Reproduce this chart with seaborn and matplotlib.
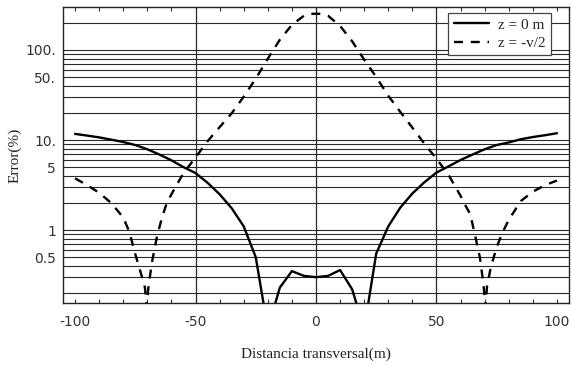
import numpy as np
import pandas as pd
import matplotlib
matplotlib.use("Agg")
import matplotlib.pyplot as plt
import matplotlib.ticker as mticker
import seaborn as sns

# ---- data ----
x_z0 = [-100, -95, -90, -85, -80, -75, -70, -65, -60, -55, -50, -45, -40, -35, -30, -25, -20, -15, -10, -5, 0,
        5, 10, 15, 20, 25, 30, 35, 40, 45, 50, 55, 60, 65, 70, 75, 80, 85, 90, 95, 100]
err_z0 = [11.7, 11.2, 10.7, 10.1, 9.5, 8.8, 7.9, 6.9, 5.95, 5.0, 4.3, 3.35, 2.5, 1.75, 1.1, 0.5, 0.08, 0.23, 0.35, 0.31, 0.30,
          0.31, 0.36, 0.22, 0.08, 0.55, 1.1, 1.78, 2.55, 3.4, 4.35, 5.1, 6.0, 6.9, 7.9, 8.8, 9.4, 10.2, 10.8, 11.3, 11.9]

x_zv2 = [-100, -95, -90, -85, -80, -77.5, -75, -72.5, -71, -70.3, -69.5, -68, -66, -64, -62, -60, -55, -50, -45, -40,
         -35, -30, -25, -20, -15, -10, -5, -2.5, 0, 2.5, 5, 10, 15, 20, 25, 30, 35, 40, 45, 50, 55, 60, 62, 64, 66,
         68, 69.5, 70.3, 71, 72.5, 75, 77.5, 80, 85, 90, 95, 100]
err_zv2 = [3.76, 3.15, 2.6, 2.0, 1.38, 0.96, 0.54, 0.32, 0.23, 0.14, 0.24, 0.45, 0.85, 1.35, 1.98, 2.5, 4.3, 6.4, 9.7, 13.9,
           19.8, 30.3, 48, 80, 130, 190, 240, 251, 253, 251, 240, 185, 125, 78, 50, 31, 20.5, 13.7, 9.1, 6.2, 4.1, 2.4, 1.88, 1.5, 0.88,
           0.5, 0.25, 0.14, 0.24, 0.38, 0.65, 0.95, 1.3, 2.1, 2.67, 3.15, 3.55]

label_z0 = "z = 0 m"
label_zv2 = "z = -v/2"
xticks = [-100, -50, 0, 50, 100]
xtick_labels = ["-100", "-50", "0", "50", "100"]
yticks = [0.5, 1, 5, 10, 50, 100]
ytick_labels = ["0.5", "1", "5", "10.", "50.", "100."]
xlabel = "Distancia transversal(m)"
ylabel = "Error(%)"

df = pd.concat([
    pd.DataFrame({"x": x_z0, "err": err_z0, "serie": label_z0}),
    pd.DataFrame({"x": x_zv2, "err": err_zv2, "serie": label_zv2}),
], ignore_index=True)

sns.set_theme(style="white")
plt.rcParams["axes.unicode_minus"] = False

fig = plt.figure(figsize=(5.71, 3.65), dpi=100)
ax = fig.add_axes([63/571, 1 - 303/365, (569-63)/571, (303-7)/365])

ax.set_yscale("log")
ax.set_xlim(-105, 105)
ax.set_ylim(0.155, 300)

# grid lines: every log minor/major in y, only -50,0,50 in x
grid_col = "#2a2a2a"
for dec in [0.1, 1, 10, 100]:
    for m in range(1, 10):
        v = dec * m
        if 0.155 < v < 300:
            ax.axhline(v, color=grid_col, lw=0.8, zorder=1)
for v in [-50, 0, 50]:
    ax.axvline(v, color=grid_col, lw=0.9, zorder=1)

sns.lineplot(data=df, x="x", y="err", style="serie", hue="serie",
             palette={label_z0: "black", label_zv2: "black"},
             dashes={label_z0: "", label_zv2: (3.8, 3.3)},
             estimator=None, sort=False, lw=1.7, ax=ax, zorder=3)

ax.xaxis.set_major_locator(mticker.FixedLocator(xticks))
ax.xaxis.set_major_formatter(mticker.FixedFormatter(xtick_labels))
ax.xaxis.set_minor_locator(mticker.MultipleLocator(10))
ax.yaxis.set_major_locator(mticker.FixedLocator(yticks))
ax.yaxis.set_major_formatter(mticker.FixedFormatter(ytick_labels))
ax.yaxis.set_minor_locator(mticker.NullLocator())
ax.yaxis.set_minor_formatter(mticker.NullFormatter())

ax.tick_params(axis="x", which="both", direction="in", top=True, bottom=True,
               length=3, width=0.8, color="#333333", labelsize=10, labelcolor="#333333", pad=9)
ax.tick_params(axis="y", which="both", direction="in", left=True, length=0,
               labelsize=10, labelcolor="#333333", pad=5)
for lab in ax.get_xticklabels() + ax.get_yticklabels():
    lab.set_fontfamily("DejaVu Sans")

for s in ax.spines.values():
    s.set_color("#222222")
    s.set_linewidth(1.0)

ax.set_xlabel(xlabel, fontfamily="Liberation Serif", fontsize=11, color="#222222", labelpad=13)
ax.set_ylabel(ylabel, fontfamily="Liberation Serif", fontsize=11, color="#222222", labelpad=3)

leg = ax.legend(loc="upper right", bbox_to_anchor=((551-63)/506, (303-12.7)/296),
                borderaxespad=0, frameon=True, fancybox=False, framealpha=1,
                edgecolor="#444444", prop={"family": "Liberation Serif", "size": 11},
                handlelength=2.3, handletextpad=0.6, borderpad=0.35, labelspacing=0.3)
leg.get_frame().set_linewidth(0.9)
leg.set_zorder(5)

fig.savefig("out.png", dpi=100, facecolor="white")
